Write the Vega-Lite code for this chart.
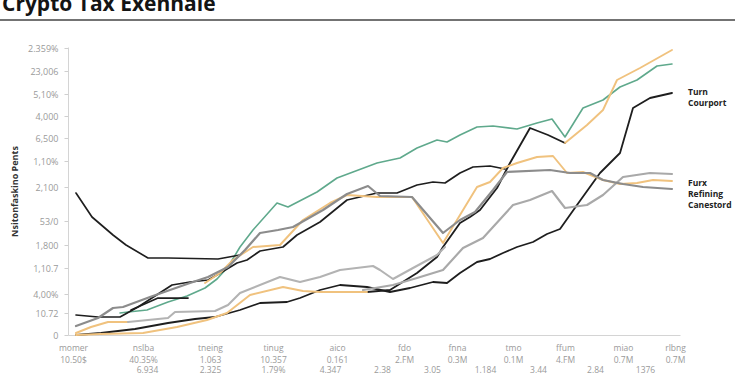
{
  "$schema": "https://vega.github.io/schema/vega-lite/v6.json",
  "width": 612,
  "height": 288,
  "autosize": {"type": "none"},
  "padding": {"left": 68, "top": 47, "right": 70, "bottom": 40},
  "background": "#ffffff",
  "config": {"view": {"stroke": null}},
  "datasets": {
    "lines": [
      {"s":"teal","t":5.2,"v":2.2},{"s":"teal","t":6.0,"v":2.3},{"s":"teal","t":7.9,"v":2.5},{"s":"teal","t":10.0,"v":3.3},{"s":"teal","t":11.9,"v":3.9},{"s":"teal","t":13.7,"v":4.7},{"s":"teal","t":14.9,"v":5.6},{"s":"teal","t":16.0,"v":6.8},{"s":"teal","t":17.2,"v":8.8},{"s":"teal","t":18.5,"v":10.5},{"s":"teal","t":20.9,"v":13.2},{"s":"teal","t":22.0,"v":12.8},{"s":"teal","t":24.9,"v":14.3},{"s":"teal","t":26.9,"v":15.7},{"s":"teal","t":28.5,"v":16.3},{"s":"teal","t":30.9,"v":17.2},{"s":"teal","t":33.2,"v":17.7},{"s":"teal","t":34.9,"v":18.7},{"s":"teal","t":36.9,"v":19.5},{"s":"teal","t":37.9,"v":19.3},{"s":"teal","t":39.2,"v":20.0},{"s":"teal","t":40.9,"v":20.8},{"s":"teal","t":42.5,"v":20.9},{"s":"teal","t":44.9,"v":20.6},{"s":"teal","t":46.9,"v":21.2},{"s":"teal","t":48.4,"v":21.6},{"s":"teal","t":49.7,"v":19.8},{"s":"teal","t":51.5,"v":22.7},{"s":"teal","t":53.5,"v":23.5},{"s":"teal","t":55.2,"v":24.8},{"s":"teal","t":56.9,"v":25.5},{"s":"teal","t":58.9,"v":26.9},{"s":"teal","t":60.4,"v":27.1},
      {"s":"blackU","t":0.8,"v":14.2},{"s":"blackU","t":2.4,"v":11.8},{"s":"blackU","t":4.5,"v":10.0},{"s":"blackU","t":5.8,"v":9.0},{"s":"blackU","t":8.0,"v":7.7},{"s":"blackU","t":10.0,"v":7.7},{"s":"blackU","t":15.0,"v":7.6},{"s":"blackU","t":17.2,"v":8.0},
      {"s":"blackMid","t":0.8,"v":2.0},{"s":"blackMid","t":3.0,"v":1.8},{"s":"blackMid","t":5.2,"v":1.8},{"s":"blackMid","t":7.0,"v":2.8},{"s":"blackMid","t":10.4,"v":5.0},{"s":"blackMid","t":12.2,"v":5.3},{"s":"blackMid","t":14.0,"v":5.5},{"s":"blackMid","t":14.9,"v":6.0},{"s":"blackMid","t":16.9,"v":7.2},{"s":"blackMid","t":17.9,"v":7.5},{"s":"blackMid","t":19.2,"v":8.4},{"s":"blackMid","t":21.5,"v":8.8},{"s":"blackMid","t":22.9,"v":10.0},{"s":"blackMid","t":25.2,"v":11.3},{"s":"blackMid","t":27.9,"v":13.5},{"s":"blackMid","t":30.9,"v":14.2},{"s":"blackMid","t":32.9,"v":14.2},{"s":"blackMid","t":34.9,"v":15.0},{"s":"blackMid","t":36.5,"v":15.3},{"s":"blackMid","t":37.7,"v":15.2},{"s":"blackMid","t":39.2,"v":16.2},{"s":"blackMid","t":40.5,"v":16.8},{"s":"blackMid","t":42.2,"v":16.9},{"s":"blackMid","t":43.7,"v":16.6},
      {"s":"blackShort","t":6.3,"v":2.5},{"s":"blackShort","t":9.0,"v":3.7},{"s":"blackShort","t":12.0,"v":3.7},
      {"s":"blackTurn","t":0.8,"v":0.0},{"s":"blackTurn","t":3.3,"v":0.2},{"s":"blackTurn","t":6.7,"v":0.6},{"s":"blackTurn","t":10.0,"v":1.2},{"s":"blackTurn","t":12.7,"v":1.6},{"s":"blackTurn","t":14.7,"v":1.8},{"s":"blackTurn","t":17.2,"v":2.5},{"s":"blackTurn","t":19.2,"v":3.2},{"s":"blackTurn","t":21.9,"v":3.3},{"s":"blackTurn","t":23.2,"v":3.7},{"s":"blackTurn","t":25.2,"v":4.5},{"s":"blackTurn","t":27.2,"v":5.0},{"s":"blackTurn","t":29.9,"v":4.8},{"s":"blackTurn","t":32.2,"v":4.3},{"s":"blackTurn","t":34.2,"v":4.7},{"s":"blackTurn","t":36.5,"v":5.3},{"s":"blackTurn","t":37.9,"v":5.2},{"s":"blackTurn","t":39.2,"v":6.2},{"s":"blackTurn","t":40.9,"v":7.3},{"s":"blackTurn","t":42.2,"v":7.6},{"s":"blackTurn","t":43.5,"v":8.2},{"s":"blackTurn","t":44.9,"v":8.8},{"s":"blackTurn","t":46.5,"v":9.3},{"s":"blackTurn","t":47.9,"v":10.1},{"s":"blackTurn","t":49.2,"v":10.6},{"s":"blackTurn","t":50.9,"v":13.0},{"s":"blackTurn","t":53.2,"v":16.2},{"s":"blackTurn","t":55.2,"v":18.2},{"s":"blackTurn","t":56.5,"v":22.7},{"s":"blackTurn","t":58.2,"v":23.7},{"s":"blackTurn","t":60.4,"v":24.2},
      {"s":"blackSteep","t":29.9,"v":4.3},{"s":"blackSteep","t":32.2,"v":4.5},{"s":"blackSteep","t":34.9,"v":6.2},{"s":"blackSteep","t":36.9,"v":7.8},{"s":"blackSteep","t":37.5,"v":8.8},{"s":"blackSteep","t":39.2,"v":11.2},{"s":"blackSteep","t":40.2,"v":11.8},{"s":"blackSteep","t":41.2,"v":12.5},{"s":"blackSteep","t":42.9,"v":14.7},{"s":"blackSteep","t":44.2,"v":17.2},{"s":"blackSteep","t":46.2,"v":20.7},{"s":"blackSteep","t":48.0,"v":20.0},{"s":"blackSteep","t":49.7,"v":19.2},
      {"s":"orangeUp","t":49.7,"v":19.2},{"s":"orangeUp","t":51.9,"v":21.0},{"s":"orangeUp","t":53.5,"v":22.5},{"s":"orangeUp","t":54.9,"v":25.5},{"s":"orangeUp","t":57.2,"v":26.7},{"s":"orangeUp","t":60.4,"v":28.5},
      {"s":"orangeMid","t":13.7,"v":5.2},{"s":"orangeMid","t":15.2,"v":6.2},{"s":"orangeMid","t":16.5,"v":7.5},{"s":"orangeMid","t":18.5,"v":8.8},{"s":"orangeMid","t":21.2,"v":9.0},{"s":"orangeMid","t":23.5,"v":11.5},{"s":"orangeMid","t":26.2,"v":13.2},{"s":"orangeMid","t":27.9,"v":14.0},{"s":"orangeMid","t":30.9,"v":13.8},{"s":"orangeMid","t":34.4,"v":13.8},{"s":"orangeMid","t":37.5,"v":9.2},{"s":"orangeMid","t":39.2,"v":12.0},{"s":"orangeMid","t":40.9,"v":14.8},{"s":"orangeMid","t":42.2,"v":15.3},{"s":"orangeMid","t":43.5,"v":16.7},{"s":"orangeMid","t":44.9,"v":17.2},{"s":"orangeMid","t":46.9,"v":17.8},{"s":"orangeMid","t":48.5,"v":17.9},{"s":"orangeMid","t":49.9,"v":16.2},{"s":"orangeMid","t":51.5,"v":16.3},{"s":"orangeMid","t":53.5,"v":15.5},{"s":"orangeMid","t":55.2,"v":15.1},{"s":"orangeMid","t":56.9,"v":15.2},{"s":"orangeMid","t":58.5,"v":15.5},{"s":"orangeMid","t":60.4,"v":15.4},
      {"s":"orangeLow","t":0.8,"v":0.0},{"s":"orangeLow","t":3.2,"v":0.1},{"s":"orangeLow","t":7.5,"v":0.2},{"s":"orangeLow","t":10.9,"v":0.8},{"s":"orangeLow","t":13.9,"v":1.5},{"s":"orangeLow","t":15.9,"v":2.2},{"s":"orangeLow","t":18.2,"v":4.0},{"s":"orangeLow","t":21.5,"v":4.8},{"s":"orangeLow","t":23.5,"v":4.4},{"s":"orangeLow","t":25.2,"v":4.3},{"s":"orangeLow","t":29.9,"v":4.3},
      {"s":"orangeShort","t":0.8,"v":0.2},{"s":"orangeShort","t":2.3,"v":0.8},{"s":"orangeShort","t":4.0,"v":1.3},{"s":"orangeShort","t":6.0,"v":1.3},
      {"s":"grayLow","t":6.0,"v":1.3},{"s":"grayLow","t":10.0,"v":1.7},{"s":"grayLow","t":10.7,"v":2.3},{"s":"grayLow","t":14.7,"v":2.4},{"s":"grayLow","t":16.0,"v":3.0},{"s":"grayLow","t":17.2,"v":4.2},{"s":"grayLow","t":21.2,"v":5.8},{"s":"grayLow","t":23.2,"v":5.3},{"s":"grayLow","t":25.2,"v":5.8},{"s":"grayLow","t":27.2,"v":6.5},{"s":"grayLow","t":30.5,"v":6.9},{"s":"grayLow","t":31.2,"v":6.5},{"s":"grayLow","t":32.5,"v":5.6},{"s":"grayLow","t":34.5,"v":6.7},{"s":"grayLow","t":36.9,"v":8.0},{"s":"grayLow","t":37.7,"v":8.8},
      {"s":"grayFurx","t":29.5,"v":4.5},{"s":"grayFurx","t":32.5,"v":5.0},{"s":"grayFurx","t":34.9,"v":5.7},{"s":"grayFurx","t":37.5,"v":6.5},{"s":"grayFurx","t":39.5,"v":8.7},{"s":"grayFurx","t":41.5,"v":9.7},{"s":"grayFurx","t":44.5,"v":13.0},{"s":"grayFurx","t":46.2,"v":13.5},{"s":"grayFurx","t":48.4,"v":14.4},{"s":"grayFurx","t":49.7,"v":12.7},{"s":"grayFurx","t":51.9,"v":13.0},{"s":"grayFurx","t":53.5,"v":14.0},{"s":"grayFurx","t":55.5,"v":15.8},{"s":"grayFurx","t":58.2,"v":16.2},{"s":"grayFurx","t":60.4,"v":16.1},
      {"s":"grayV","t":0.8,"v":0.9},{"s":"grayV","t":3.0,"v":1.7},{"s":"grayV","t":4.5,"v":2.7},{"s":"grayV","t":5.5,"v":2.8},{"s":"grayV","t":8.2,"v":3.8},{"s":"grayV","t":10.2,"v":4.5},{"s":"grayV","t":12.2,"v":5.2},{"s":"grayV","t":14.0,"v":5.8},{"s":"grayV","t":16.0,"v":6.8},{"s":"grayV","t":17.7,"v":8.5},{"s":"grayV","t":19.2,"v":10.2},{"s":"grayV","t":21.0,"v":10.5},{"s":"grayV","t":22.5,"v":10.8},{"s":"grayV","t":25.5,"v":12.5},{"s":"grayV","t":27.9,"v":14.1},{"s":"grayV","t":30.0,"v":14.9},{"s":"grayV","t":31.2,"v":13.9},{"s":"grayV","t":34.4,"v":13.8},{"s":"grayV","t":37.5,"v":10.2},{"s":"grayV","t":39.2,"v":11.5},{"s":"grayV","t":40.7,"v":12.3},{"s":"grayV","t":42.5,"v":14.5},{"s":"grayV","t":43.9,"v":16.3},{"s":"grayV","t":48.2,"v":16.5},{"s":"grayV","t":50.2,"v":16.2},{"s":"grayV","t":52.2,"v":16.2},{"s":"grayV","t":53.5,"v":15.5},{"s":"grayV","t":55.5,"v":15.1},{"s":"grayV","t":57.5,"v":14.8},{"s":"grayV","t":60.4,"v":14.6}
    ],
    "labels": [
      {"lab": "Turn\nCourport", "t": 60.4, "v": 24.3},
      {"lab": "Furx\nRefining\nCanestord", "t": 60.4, "v": 15.2}
    ]
  },
  "layer": [
    {
      "data": {"name": "lines"},
      "mark": {"type": "line", "strokeJoin": "round", "strokeCap": "round"},
      "encoding": {
        "x": {"field": "t", "type": "quantitative", "scale": {"domain": [0, 61.2], "nice": false, "zero": false},
          "axis": {"orient": "bottom", "title": null, "grid": false, "values": [0.5, 7.5, 14.2, 20.5, 26.9, 33.6, 38.9, 44.5, 49.7, 55.5, 60.7],
            "labelExpr": "[['momer','10.50$'],['nslba','40.35%'],['tneing','1.063'],['tinug','10.357'],['aico','0.161'],['fdo','2.FM'],['fnna','0.3M'],['tmo','0.1M'],['ffum','4.FM'],['miao','0.7M'],['rlbng','0.7M']][indexof([0.5, 7.5, 14.2, 20.5, 26.9, 33.6, 38.9, 44.5, 49.7, 55.5, 60.7], datum.value)]",
            "ticks": false, "tickSize": 0, "domainColor": "#d4d4d4", "domainWidth": 1, "labelColor": "#9a9a9a", "labelFontSize": 8.5, "labelFont": "Open Sans", "labelPadding": 8, "labelLineHeight": 12, "labelOverlap": false, "labelFlush": false, "labelBound": false}},
        "y": {"field": "v", "type": "quantitative", "scale": {"domain": [0, 28.8], "nice": false},
          "axis": {"grid": false, "values": [28.7, 26.4, 24.1, 21.9, 19.7, 17.4, 14.8, 11.4, 9, 6.7, 4.1, 2.2, 0],
            "labelExpr": "['2.359%','23,006','5,10%','4,000','6,500','1,10%','2,100','53/0','1,800','1,10.7','4,00%','10.72','0'][indexof([28.7, 26.4, 24.1, 21.9, 19.7, 17.4, 14.8, 11.4, 9, 6.7, 4.1, 2.2, 0], datum.value)]",
            "tickSize": 4, "tickColor": "#cfcfcf", "domainColor": "#d4d4d4", "labelColor": "#9a9a9a", "labelFontSize": 9, "labelFont": "Open Sans", "labelPadding": 6, "labelOverlap": false, "labelFlush": false,
            "title": "Nsitonfaskino Pents", "titleFontSize": 9, "titleFontWeight": "bold", "titleColor": "#333333", "titlePadding": 8, "titleFont": "Open Sans"}},
        "color": {"field": "s", "type": "nominal", "legend": null,
          "scale": {"domain": ["teal","blackU","blackMid","blackShort","blackTurn","blackSteep","orangeUp","orangeMid","orangeLow","orangeShort","grayLow","grayFurx","grayV"],
            "range": ["#5fa98c","#1e1e1e","#1e1e1e","#1e1e1e","#1e1e1e","#1e1e1e","#f0c27e","#f0c27e","#f0c27e","#f0c27e","#b3b3b3","#a9a9a9","#8c8c8c"]}},
        "strokeWidth": {"field": "s", "type": "nominal", "legend": null,
          "scale": {"domain": ["teal","blackU","blackMid","blackShort","blackTurn","blackSteep","orangeUp","orangeMid","orangeLow","orangeShort","grayLow","grayFurx","grayV"],
            "range": [1.6, 2.2, 2.2, 2.2, 2.2, 2.2, 1.7, 1.7, 1.7, 1.7, 1.7, 1.7, 1.7]}}
      }
    },
    {
      "data": {"values": [{"a": 0}]},
      "mark": {"type": "rule", "color": "#444444", "strokeWidth": 1.6, "clip": false},
      "encoding": {
        "x": {"datum": -6.8, "type": "quantitative", "scale": {"domain": [0, 61.2], "nice": false, "zero": false},
          "axis": {"orient": "bottom", "title": null, "grid": false, "domain": false, "ticks": false, "tickSize": 0,
            "values": [-0.5, 7.9, 14.2, 20.5, 26.2, 31.4, 36.4, 41.7, 47.0, 52.7, 57.7],
            "labelExpr": "['1.33.0','6.934','2.325','1.79%','4.347','2.38','3.05','1.184','3.44','2.84','1376'][indexof([-0.5, 7.9, 14.2, 20.5, 26.2, 31.4, 36.4, 41.7, 47.0, 52.7, 57.7], datum.value)]",
            "labelColor": "#9a9a9a", "labelFontSize": 8.5, "labelFont": "Open Sans", "labelPadding": 30, "labelOverlap": false, "labelFlush": false, "labelBound": false}},
        "x2": {"datum": 66.7},
        "y": {"datum": 31.5, "type": "quantitative", "scale": {"domain": [0, 28.8], "nice": false}, "axis": null}
      }
    },
    {
      "data": {"values": [{"title": "Crypto Tax Exennale"}]},
      "mark": {"type": "text", "align": "left", "baseline": "alphabetic", "fontSize": 21, "fontWeight": "bold", "font": "Open Sans", "color": "#141414", "clip": false},
      "encoding": {
        "x": {"datum": -6.6, "type": "quantitative", "scale": {"domain": [0, 61.2], "nice": false, "zero": false}, "axis": null},
        "y": {"datum": 32.4, "type": "quantitative", "scale": {"domain": [0, 28.8], "nice": false}, "axis": null},
        "text": {"field": "title"}
      }
    },
    {
      "data": {"name": "labels"},
      "mark": {"type": "text", "align": "left", "baseline": "middle", "dx": 16, "fontSize": 8.5, "fontWeight": "bold", "font": "Open Sans", "color": "#222222", "lineBreak": "\n", "lineHeight": 11},
      "encoding": {
        "x": {"field": "t", "type": "quantitative", "scale": {"domain": [0, 61.2], "nice": false, "zero": false}, "axis": null},
        "y": {"field": "v", "type": "quantitative", "scale": {"domain": [0, 28.8], "nice": false}, "axis": null},
        "text": {"field": "lab"}
      }
    }
  ],
  "resolve": {"axis": {"x": "independent", "y": "independent"}}
}
